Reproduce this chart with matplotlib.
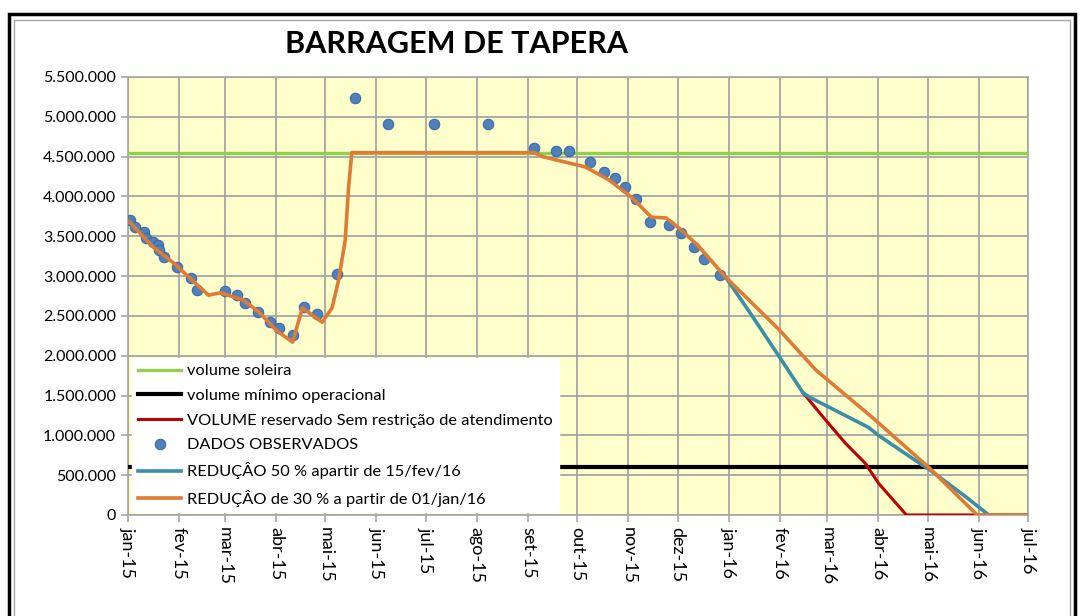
import pandas as pd
import matplotlib.pyplot as plt
import matplotlib.dates as mdates
from matplotlib.patches import Rectangle
from matplotlib.ticker import FuncFormatter, MultipleLocator

plt.rcParams['font.family'] = ['Lato', 'DejaVu Sans']

# ---- data ----
obs_dates = ['2015-01-02', '2015-01-05', '2015-01-11', '2015-01-12', '2015-01-16',
             '2015-01-19', '2015-01-20', '2015-01-23', '2015-01-31', '2015-02-08',
             '2015-02-12', '2015-03-01', '2015-03-08', '2015-03-13', '2015-03-21',
             '2015-03-28', '2015-04-03', '2015-04-11', '2015-04-18', '2015-04-26',
             '2015-05-08', '2015-05-19', '2015-06-08', '2015-07-06', '2015-08-08',
             '2015-09-05', '2015-09-18', '2015-09-26', '2015-10-09', '2015-10-17',
             '2015-10-24', '2015-10-30', '2015-11-06', '2015-11-14', '2015-11-26',
             '2015-12-03', '2015-12-11', '2015-12-17', '2015-12-27']
obs_vals = [3700000, 3620000, 3550000, 3480000, 3430000,
            3390000, 3330000, 3240000, 3110000, 2980000,
            2830000, 2810000, 2760000, 2660000, 2550000,
            2420000, 2350000, 2260000, 2610000, 2520000,
            3030000, 5240000, 4910000, 4910000, 4910000,
            4610000, 4570000, 4570000, 4430000, 4310000,
            4230000, 4120000, 3970000, 3680000, 3640000,
            3540000, 3370000, 3210000, 3010000]

red30_dates = ['2015-01-02', '2015-01-16', '2015-01-29', '2015-02-11', '2015-02-19',
               '2015-02-26', '2015-03-12', '2015-03-22', '2015-04-01', '2015-04-11',
               '2015-04-17', '2015-04-29', '2015-05-05', '2015-05-09', '2015-05-13',
               '2015-05-15', '2015-05-17', '2015-09-05', '2015-09-10', '2015-10-06',
               '2015-10-20', '2015-11-03', '2015-11-15', '2015-11-24', '2015-12-02',
               '2015-12-14', '2015-12-30', '2016-02-01', '2016-02-23', '2016-03-28',
               '2016-05-02', '2016-05-31', '2016-07-01']
red30_vals = [3680000, 3370000, 3160000, 2910000, 2760000,
              2790000, 2700000, 2540000, 2320000, 2170000,
              2600000, 2420000, 2600000, 2950000, 3450000,
              4100000, 4550000, 4550000, 4500000, 4370000,
              4210000, 3990000, 3740000, 3730000, 3600000,
              3370000, 2990000, 2320000, 1820000, 1230000,
              590000, 0, 0]

red50_dates = ['2015-12-30', '2016-01-13', '2016-02-01', '2016-02-15', '2016-02-19',
               '2016-03-08', '2016-03-26', '2016-04-01', '2016-04-21', '2016-05-02',
               '2016-05-24', '2016-06-07', '2016-07-01']
red50_vals = [2990000, 2570000, 1980000, 1540000, 1480000,
              1290000, 1100000, 1000000, 720000, 570000,
              230000, 0, 0]

semrestr_dates = ['2016-02-15', '2016-02-29', '2016-03-12', '2016-03-24', '2016-04-01',
                  '2016-04-18', '2016-07-01']
semrestr_vals = [1540000, 1190000, 900000, 650000, 400000, 0, 0]

vol_soleira = 4550000
vol_minimo = 600000
x_start, x_end = '2015-01-01', '2016-07-01'

# ---- plot ----
fig = plt.figure(figsize=(10.8, 6.16), dpi=100)
ax = fig.add_axes([0.1185, 0.164, 0.8335, 0.711])
ax.set_facecolor('#FFFFCC')

xs = [pd.Timestamp(x_start), pd.Timestamp(x_end)]
ax.plot(xs, [vol_soleira, vol_soleira], color='#92D050', lw=2.4, zorder=3,
        label='volume soleira')
ax.plot(xs, [vol_minimo, vol_minimo], color='black', lw=3, zorder=3,
        label='volume mínimo operacional')
ax.plot(pd.to_datetime(semrestr_dates), semrestr_vals, color='#C00000', lw=2.2, zorder=4,
        label='VOLUME reservado Sem restrição de atendimento')
ax.plot(pd.to_datetime(obs_dates), obs_vals, 'o', ms=7.5, color='#4F81BD',
        markeredgecolor='#3A6AA6', markeredgewidth=0.8, zorder=5,
        label='DADOS OBSERVADOS')
ax.plot(pd.to_datetime(red50_dates), red50_vals, color='#3A8EA8', lw=2.6, zorder=5,
        label='REDUÇÂO 50 % apartir de 15/fev/16')
ax.plot(pd.to_datetime(red30_dates), red30_vals, color='#E07B35', lw=2.6, zorder=6,
        label='REDUÇÂO de 30 % a partir de 01/jan/16')

ax.set_xlim(pd.Timestamp(x_start), pd.Timestamp(x_end))
ax.set_ylim(0, 5500000)
ax.yaxis.set_major_locator(MultipleLocator(500000))
ax.yaxis.set_major_formatter(FuncFormatter(lambda v, p: f'{int(v):,}'.replace(',', '.')))

months = ['jan', 'fev', 'mar', 'abr', 'mai', 'jun', 'jul', 'ago', 'set', 'out', 'nov', 'dez']
ax.xaxis.set_major_locator(mdates.MonthLocator())
ax.xaxis.set_major_formatter(FuncFormatter(
    lambda v, p: f"{months[mdates.num2date(v).month - 1]}-{mdates.num2date(v).strftime('%y')}"))

ax.grid(True, color='#A6A6A6', lw=1.3, zorder=1)
ax.set_axisbelow(True)
for s in ax.spines.values():
    s.set_color('#A6A6A6')
    s.set_linewidth(1.2)
ax.tick_params(axis='both', colors='#A6A6A6', labelcolor='black',
               length=5, width=1.2)
ax.tick_params(axis='y', labelsize=11.5)
ax.tick_params(axis='x', labelsize=13)
plt.setp(ax.get_xticklabels(), rotation=-90, ha='center', va='top')

leg = ax.legend(loc='lower left', bbox_to_anchor=(0.005, 0.006), fontsize=11.8,
                frameon=True, fancybox=False, framealpha=1, edgecolor='white',
                handlelength=2.6, borderpad=0.35, labelspacing=0.62, handletextpad=0.4,
                borderaxespad=0)
leg.set_zorder(10)

fig.text(0.423, 0.928, 'BARRAGEM DE TAPERA', ha='center', va='center',
         fontsize=22, fontweight='bold')

# frame around the whole chart
fig.patches.append(Rectangle((9 / 1080, -0.02), 1066 / 1080, 1 - 14 / 616 + 0.02,
                             transform=fig.transFigure, fill=False, edgecolor='black', lw=2.5))
fig.patches.append(Rectangle((14 / 1080, -0.02), 1056 / 1080, 1 - 20 / 616 + 0.02,
                             transform=fig.transFigure, fill=False, edgecolor='#A6A6A6', lw=1))

fig.savefig('out.png', dpi=100)
